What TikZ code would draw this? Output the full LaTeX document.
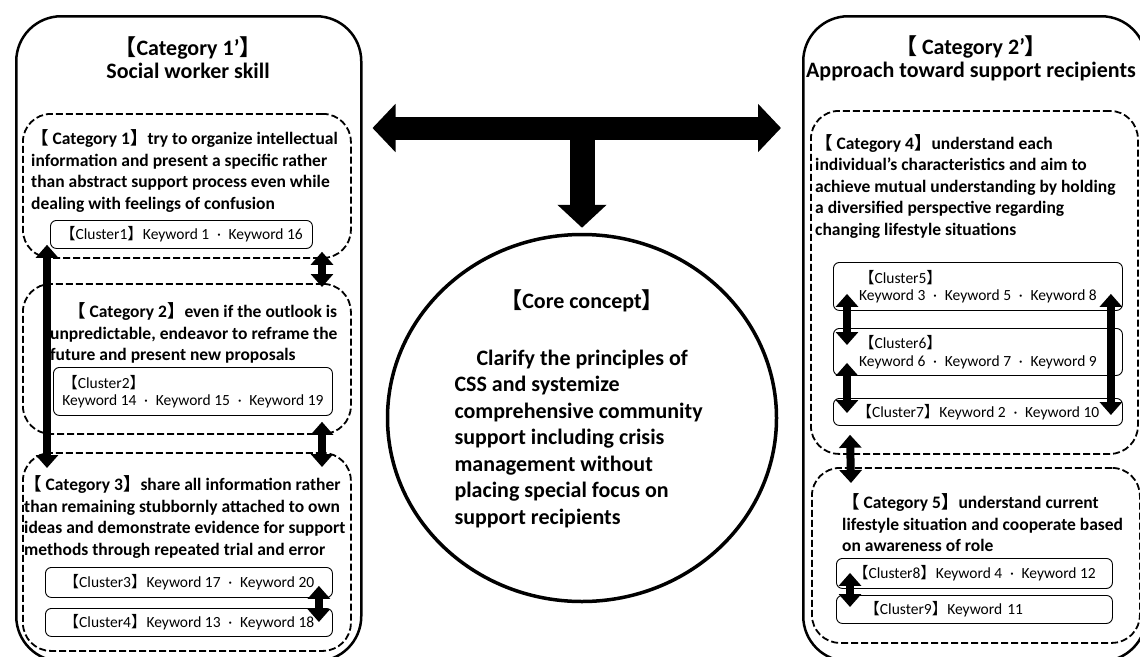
\documentclass[tikz,border=0pt]{standalone}
\usepackage{fontspec}
\setmainfont{Carlito}
\newfontfamily\cjk{Noto Sans CJK JP}
\usetikzlibrary{arrows.meta}
\usetikzlibrary{calc}
\usetikzlibrary{shapes}
\usetikzlibrary{positioning}

\newcommand{\lbr}{{\cjk 【}}
\newcommand{\rbr}{{\cjk 】}}
\newcommand{\mdot}{\enspace·\enspace}

\tikzset{
  outerbox/.style={draw, line width=2.5pt, rounded corners=45pt, anchor=north west, inner sep=0pt},
  catbox/.style={draw, line width=1.8pt, dash pattern=on 7pt off 3pt, rounded corners=28pt, anchor=north west, inner sep=0pt},
  clusterbox/.style={draw, line width=0.9pt, rounded corners=6pt, anchor=north west, align=left, inner ysep=0pt, font=\fontsize{15.5}{17.5}\selectfont},
  cattext/.style={anchor=west, align=left, inner sep=0pt, font=\fontsize{17.5}{21.5}\selectfont\bfseries},
  titletext/.style={align=center, inner sep=0pt, font=\fontsize{22}{23}\selectfont\bfseries},
  corebox/.style={draw, ellipse, line width=3.5pt, inner sep=0pt, align=center, font=\fontsize{22}{26.5}\selectfont\bfseries},
  dblarrow/.style={line width=8pt, {Triangle[width=22pt,length=13pt]}-{Triangle[width=22pt,length=13pt]}},
  bigarrow/.style={line width=23pt, {Triangle[width=47pt,length=23pt]}-{Triangle[width=47pt,length=23pt]}},
  downarrow/.style={line width=25pt, -{Triangle[width=48pt,length=23pt]}}
}

\begin{document}
\begin{tikzpicture}[x=1pt, y=-1pt]
    \useasboundingbox (0,0) rectangle (1140,656);
    \clip (0,0) rectangle (1140,656);
    \fill[white] (0,0) rectangle (1140,656);

    \draw (15,15) node[outerbox, minimum width=345, minimum height=645]   (sw) {};
    \draw (802,15) node[outerbox, minimum width=343, minimum height=645]  (ap) {};
    \draw (188,58) node[titletext]  (t1) {\lbr Category 1’\rbr\\Social worker skill};
    \draw (971,58) node[titletext]  (t2) {\lbr{} Category 2’\rbr\\Approach toward support recipients};

    \draw (22,113) node[catbox, minimum width=328, minimum height=144]   (c1) {};
    \draw (22,283) node[catbox, minimum width=328, minimum height=150]   (c2) {};
    \draw (22,452) node[catbox, minimum width=328, minimum height=198]   (c3) {};
    \draw (810,110) node[catbox, minimum width=327, minimum height=343]  (c4) {};
    \draw (811,467) node[catbox, minimum width=328, minimum height=175]  (c5) {};

    \draw (31,171) node[cattext]   (c1t) {\lbr{} Category 1\rbr try to organize intellectual\\information and present a specific rather\\than abstract support process even while\\dealing with feelings of confusion};
    \draw (50,333) node[cattext]   (c2t) {\hspace*{18pt}\lbr{} Category 2\rbr even if the outlook is\\unpredictable, endeavor to reframe the\\future and present new proposals};
    \draw (24,517) node[cattext]   (c3t) {\lbr{} Category 3\rbr share all information rather\\than remaining stubbornly attached to own\\ideas and demonstrate evidence for support\\methods through repeated trial and error};
    \draw (815,186) node[cattext]  (c4t) {\lbr{} Category 4\rbr understand each\\individual’s characteristics and aim to\\achieve mutual understanding by holding\\a diversified perspective regarding\\changing lifestyle situations};
    \draw (842,523) node[cattext]  (c5t) {\lbr{} Category 5\rbr understand current\\lifestyle situation and cooperate based\\on awareness of role};

    \draw (50,220) node[clusterbox, minimum width=262, minimum height=28]   (cl1) {\lbr Cluster1\rbr Keyword 1\mdot Keyword 16};
    \draw (53,367) node[clusterbox, minimum width=279, minimum height=48]   (cl2) {\lbr Cluster2\rbr\\Keyword 14\mdot Keyword 15\mdot Keyword 19};
    \draw (45,567) node[clusterbox, minimum width=287, minimum height=30]   (cl3) {\lbr Cluster3\rbr Keyword 17\mdot Keyword 20};
    \draw (45,608) node[clusterbox, minimum width=287, minimum height=28]   (cl4) {\lbr Cluster4\rbr Keyword 13\mdot Keyword 18};
    \draw (833,262) node[clusterbox, minimum width=289, minimum height=48]  (cl5) {\lbr Cluster5\rbr\\Keyword 3\mdot Keyword 5\mdot Keyword 8};
    \draw (833,328) node[clusterbox, minimum width=289, minimum height=47]  (cl6) {\lbr Cluster6\rbr\\Keyword 6\mdot Keyword 7\mdot Keyword 9};
    \draw (833,398) node[clusterbox, minimum width=289, minimum height=27]  (cl7) {\lbr Cluster7\rbr Keyword 2\mdot Keyword 10};
    \draw (836,558) node[clusterbox, minimum width=276, minimum height=30]  (cl8) {\lbr Cluster8\rbr Keyword 4\mdot Keyword 12};
    \draw (836,595) node[clusterbox, minimum height=28, text width=220, inner xsep=28]  (cl9) {\lbr Cluster9\rbr Keyword 11};

    \draw (582,418) node[corebox, minimum width=389, minimum height=367]  (core) {\lbr Core concept\rbr\\[30pt]\parbox[t]{255pt}{\raggedright\hspace*{22pt}Clarify the principles of\\CSS and systemize\\comprehensive community\\support including crisis\\management without\\placing special focus on\\support recipients\par\vspace*{18pt}}};

    \coordinate (hub) at (core.north |- 0,128);
    \draw[bigarrow] ($(hub -| sw.east)+(10,0)$) -- ($(hub -| ap.west)+(-21,0)$);
    \draw[downarrow] (hub) -- ($(core.north)+(0,-5)$);

    \draw[dblarrow] ([xshift=25pt,yshift=14pt]c1.south west) -- ([xshift=25pt,yshift=-16pt]c3.north west);
    \draw[dblarrow] ([xshift=300pt,yshift=7pt]c1.south west) -- ([xshift=300pt,yshift=-4pt]c2.north west);
    \draw[dblarrow] ([xshift=300pt,yshift=13pt]c2.south west) -- ([xshift=300pt,yshift=-15pt]c3.north west);
    \draw[dblarrow] ([xshift=-14pt,yshift=12pt]cl3.south east) -- ([xshift=-14pt,yshift=-14pt]cl4.north east);
    \draw[dblarrow] ([xshift=14pt,yshift=17pt]cl5.south west) -- ([xshift=14pt,yshift=-17pt]cl6.north west);
    \draw[dblarrow] ([xshift=14pt,yshift=13pt]cl6.south west) -- ([xshift=14pt,yshift=-15pt]cl7.north west);
    \draw[dblarrow] ([xshift=-12pt,yshift=17pt]cl5.south east) -- ([xshift=-12pt,yshift=-17pt]cl7.north east);
    \draw[dblarrow] ([xshift=40pt,yshift=20pt]c4.south west) -- ([xshift=40pt,yshift=-16pt]c5.north west);
    \draw[dblarrow] ([xshift=14pt,yshift=16pt]cl8.south west) -- ([xshift=14pt,yshift=-12pt]cl9.north west);
\end{tikzpicture}
\end{document}
